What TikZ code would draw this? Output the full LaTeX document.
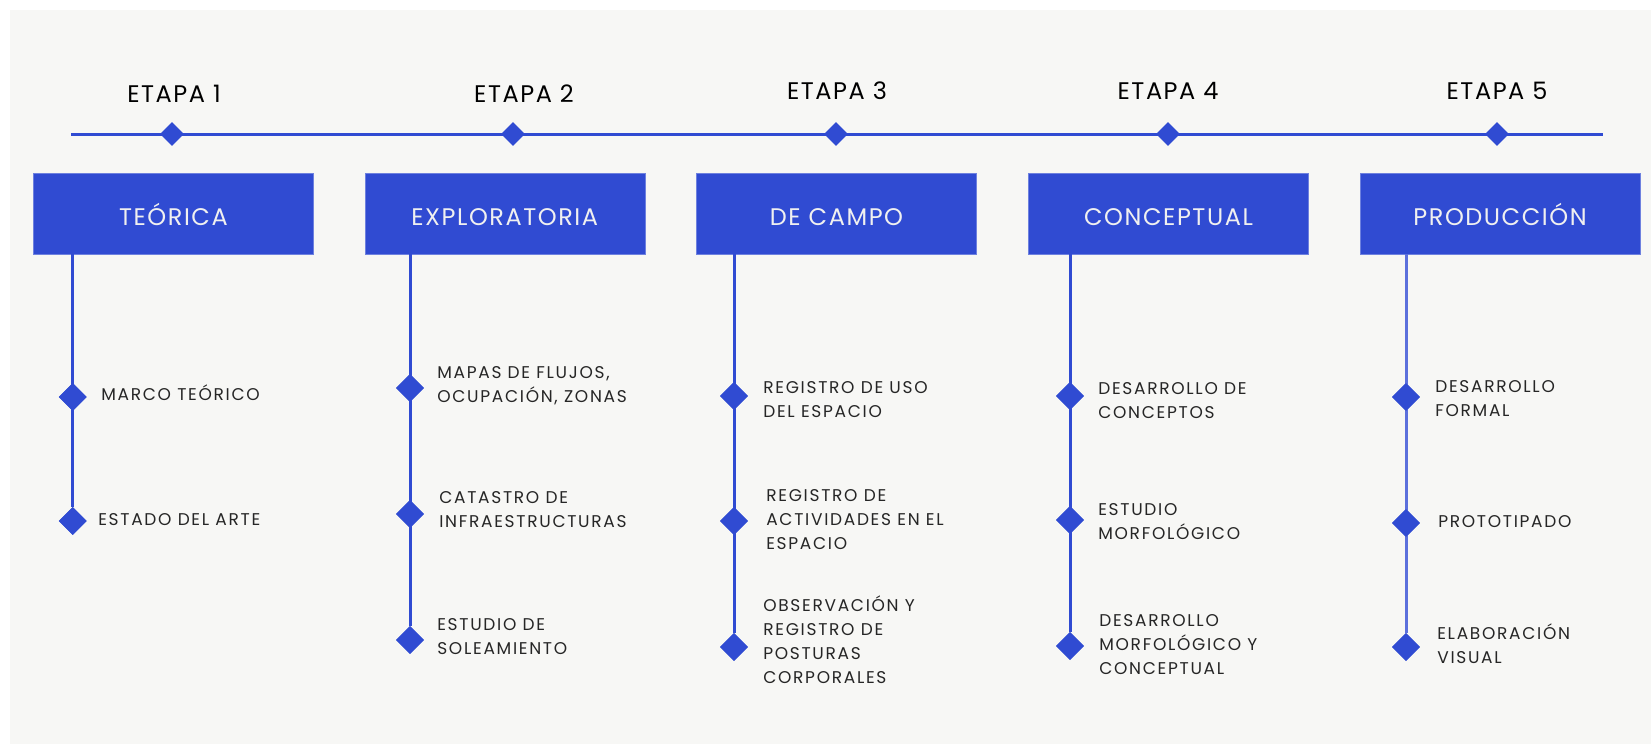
\documentclass[tikz,border=0pt]{standalone}
\usepackage{fontspec}
\setmainfont{Poppins}
\newfontfamily\etapafont[LetterSpace=6.5]{Poppins}
\newfontfamily\tareafont[LetterSpace=10]{Poppins}
\usetikzlibrary{shapes.geometric}
\definecolor{etapablue}{RGB}{48,75,210}
\definecolor{stemblue}{RGB}{92,112,220}
\definecolor{paper}{RGB}{247,247,245}
\definecolor{ink}{RGB}{38,38,38}

\begin{document}
\begin{tikzpicture}[
            x = 1pt,
            y = -1pt,
            line cap = butt,
            semithick
        ]
        \tikzstyle{etapa}=[
            font = \etapafont\fontsize{24}{28}\selectfont,
            text = black,
            anchor = base,
            inner sep = 0pt
        ]
        \tikzstyle{fase}=[
            fill = etapablue,
            draw = etapablue!70!white,
            thin,
            text = white!94!black,
            minimum width = 280pt,
            minimum height = 81pt,
            text height = 23pt,
            text depth = 0pt,
            inner sep = 0pt,
            font = \etapafont\fontsize{24}{28}\selectfont
        ]
        \tikzstyle{hito}=[
            diamond,
            fill = etapablue,
            inner sep = 0pt,
            minimum size = 24pt
        ]
        \tikzstyle{punto}=[
            diamond,
            fill = etapablue,
            inner sep = 0pt,
            minimum size = 28pt
        ]
        \tikzstyle{tarea}=[
            anchor = west,
            align = left,
            inner sep = 0pt,
            text = ink,
            font = \tareafont\fontsize{17}{24}\selectfont
        ]
        \tikzstyle{eje}=[
            draw = etapablue,
            line width = 3pt
        ]

        % fondo
        \useasboundingbox (0,0) rectangle (1651,744);
        \fill[white] (0,0) rectangle (1651,744);
        \fill[paper] (10,10) rectangle (1651,744);

        % linea de tiempo
        \coordinate (ini) at (71,134);
        \coordinate (fin) at (1603,134);
        \draw[eje] (ini) -- (fin);
        \node[hito] (h1) at (172,134) {};
        \node[hito] (h2) at (513,134) {};
        \node[hito] (h3) at (836,134) {};
        \node[hito] (h4) at (1168,134) {};
        \node[hito] (h5) at (1497,134) {};

        \node[etapa] (e1) at (174,102) {ETAPA 1};
        \node[etapa] (e2) at (524,102) {ETAPA 2};
        \node[etapa] (e3) at (837,99) {ETAPA 3};
        \node[etapa] (e4) at (1168,99) {ETAPA 4};
        \node[etapa] (e5) at (1497,99) {ETAPA 5};

        % fases
        \node[fase] (teorica) at (173.4,213.5) {TEÓRICA};
        \node[fase] (exploratoria) at (504.7,213.5) {EXPLORATORIA};
        \node[fase] (campo) at (836.5,213.5) {DE CAMPO};
        \node[fase] (conceptual) at (1168.5,213.5) {CONCEPTUAL};
        \node[fase] (produccion) at (1500,213.5) {PRODUCCIÓN};

        % etapa 1
        \node[punto] (t1) at (72.7,397) {};
        \node[punto] (t2) at (72.7,521) {};
        \draw[eje] (teorica.south -| t1) -- (t2);
        \node[tarea] (t1l) at (101,393) {MARCO TEÓRICO};
        \node[tarea] (t2l) at (98,520) {ESTADO DEL ARTE};

        % etapa 2
        \node[punto] (x1) at (410,388) {};
        \node[punto] (x2) at (410,514) {};
        \node[punto] (x3) at (410,640) {};
        \draw[eje] (exploratoria.south -| x1) -- (x3);
        \node[tarea] (x1l) at (437,386) {MAPAS DE FLUJOS,\\OCUPACIÓN, ZONAS};
        \node[tarea] (x2l) at (439,510) {CATASTRO DE\\INFRAESTRUCTURAS};
        \node[tarea] (x3l) at (437,637) {ESTUDIO DE\\SOLEAMIENTO};

        % etapa 3
        \node[punto] (c1) at (734,396) {};
        \node[punto] (c2) at (734,521) {};
        \node[punto] (c3) at (734,647) {};
        \draw[eje] (campo.south -| c1) -- (c3);
        \node[tarea] (c1l) at (763,400) {REGISTRO DE USO\\DEL ESPACIO};
        \node[tarea] (c2l) at (766,520) {REGISTRO DE\\ACTIVIDADES EN EL\\ESPACIO};
        \node[tarea] (c3l) at (763,640) {OBSERVACIÓN Y\\REGISTRO DE\\POSTURAS\\CORPORALES};

        % etapa 4
        \node[punto] (k1) at (1070,396) {};
        \node[punto] (k2) at (1070,520) {};
        \node[punto] (k3) at (1070,646) {};
        \draw[eje] (conceptual.south -| k1) -- (k3);
        \node[tarea] (k1l) at (1098,401) {DESARROLLO DE\\CONCEPTOS};
        \node[tarea] (k2l) at (1098,522) {ESTUDIO\\MORFOLÓGICO};
        \node[tarea] (k3l) at (1099,645) {DESARROLLO\\MORFOLÓGICO Y\\CONCEPTUAL};

        % etapa 5
        \node[punto] (p1) at (1406,397) {};
        \node[punto] (p2) at (1406,523) {};
        \node[punto] (p3) at (1406,647) {};
        \draw[eje, draw = stemblue] (produccion.south -| p1) -- (p3);
        \node[tarea] (p1l) at (1435,399) {DESARROLLO\\FORMAL};
        \node[tarea] (p2l) at (1438,522) {PROTOTIPADO};
        \node[tarea] (p3l) at (1437,644) {ELABORACIÓN\\VISUAL};

        % puntos encima de los ejes
        \foreach \d in {t1,t2,x1,x2,x3,c1,c2,c3,k1,k2,k3,p1,p2,p3}
            \node[punto] at (\d) {};
\end{tikzpicture}
\end{document}
